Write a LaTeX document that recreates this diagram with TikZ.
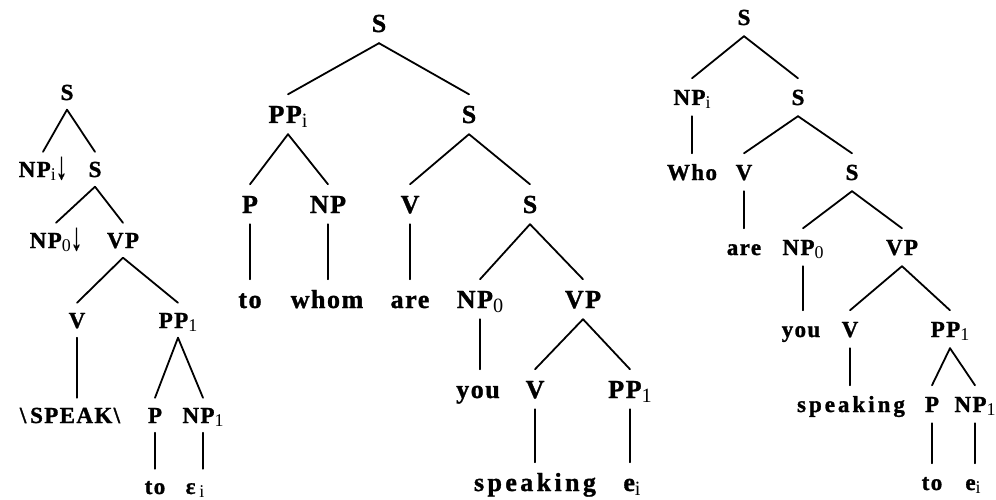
\documentclass[tikz,border=0pt]{standalone}
\usepackage{fontspec}
\usepackage{graphicx}
\setmainfont{Liberation Serif}[LetterSpace=6, BoldFeatures={FakeBold=1.2}]
\newcommand\lo[1]{\raisebox{-0.17em}{\scalebox{0.78}{\mdseries #1}}}
\newcommand\dnarrow{\raisebox{-0.08em}{\scalebox{1.0}[1.7]{↓}}}
\newcommand\wide[1]{{\addfontfeature{LetterSpace=13}#1}}
\begin{document}
\begin{tikzpicture}[x=1pt,y=-1pt,
  lab/.style={anchor=base, inner xsep=0pt, text depth=0pt},
  sml/.style={lab, font=\fontsize{23}{23}\selectfont\bfseries, text height=15.5pt, inner ysep=9.5pt},
  smr/.style={lab, font=\fontsize{23}{23}\selectfont\bfseries, text height=15.5pt, inner ysep=11pt},
  bg/.style={lab, font=\fontsize{26}{26}\selectfont\bfseries, text height=17.5pt, inner ysep=11pt},
  br/.style={line width=1.8pt, line cap=round}]
\useasboundingbox (0,0) rectangle (996,500);
% left tree
\node[sml] (l1) at (67,100) {S};
\node[sml] (l2a) at (43,177) {NP\lo{i}\dnarrow};
\node[sml] (l2b) at (95,177) {S};
\node[sml] (l3a) at (56,248) {NP\lo{0}\dnarrow};
\node[sml] (l3b) at (123,248) {VP};
\node[sml] (l4a) at (77,328) {V};
\node[sml] (l4b) at (178,328) {PP\lo{1}};
\node[sml] (l5a) at (70,423) {\textbackslash\,SPEAK\textbackslash};
\node[sml] (l5b) at (155,423) {P};
\node[sml] (l5c) at (203,423) {NP\lo{1}};
\node[sml] (l6a) at (155,494) {to};
\node[sml] (l6b) at (195,494) {ε\,\lo{i}};
% middle tree
\node[bg] (m1) at (379,32) {S};
\node[bg] (m2a) at (288,123) {PP\lo{i}};
\node[bg] (m2b) at (469,123) {S};
\node[bg] (m3a) at (250,213) {P};
\node[bg] (m3b) at (328,213) {NP};
\node[bg] (m3c) at (410,213) {V};
\node[bg] (m3d) at (530,213) {S};
\node[bg] (m4a) at (250,308) {to};
\node[bg] (m4b) at (327,308) {whom};
\node[bg] (m4c) at (410,308) {are};
\node[bg] (m4d) at (480,308) {NP\lo{0}};
\node[bg] (m4e) at (583,308) {VP};
\node[bg] (m5a) at (478,398) {you};
\node[bg] (m5b) at (535,398) {V};
\node[bg] (m5c) at (630,398) {PP\lo{1}};
\node[bg] (m6a) at (535,491) {\wide{speaking}};
\node[bg] (m6b) at (632,491) {e\lo{i}};
% right tree
\node[smr] (r1) at (744,25) {S};
\node[smr] (r2a) at (692,105) {NP\lo{i}};
\node[smr] (r2b) at (798,105) {S};
\node[smr] (r3a) at (692,180) {Who};
\node[smr] (r3b) at (744,180) {V};
\node[smr] (r3c) at (852,180) {S};
\node[smr] (r4a) at (744,255) {are};
\node[smr] (r4b) at (803,255) {NP\lo{0}};
\node[smr] (r4c) at (902,255) {VP};
\node[smr] (r5a) at (801,337) {you};
\node[smr] (r5b) at (850,337) {V};
\node[smr] (r5c) at (950,337) {PP\lo{1}};
\node[smr] (r6a) at (851,412) {\wide{speaking}};
\node[smr] (r6b) at (932,412) {P};
\node[smr] (r6c) at (975,412) {NP\lo{1}};
\node[smr] (r7a) at (932,490) {to};
\node[smr] (r7b) at (973,490) {e\lo{i}};
% branching edges
\foreach \a/\b in {l1/l2a,l1/l2b,l2b/l3a,l2b/l3b,l3b/l4a,l3b/l4b,l4b/l5b,l4b/l5c,
  m1/m2a,m1/m2b,m2a/m3a,m2a/m3b,m2b/m3c,m2b/m3d,m3d/m4d,m3d/m4e,m4e/m5b,m4e/m5c,
  r1/r2a,r1/r2b,r2b/r3b,r2b/r3c,r3c/r4b,r3c/r4c,r4c/r5b,r4c/r5c,r5c/r6b,r5c/r6c}
  \draw[br] (\a.south) -- (\b.north);
% unary edges
\foreach \a/\b in {l4a/l5a,l5b/l6a,l5c/l6b,
  m3a/m4a,m3b/m4b,m3c/m4c,m4d/m5a,m5b/m6a,m5c/m6b,
  r2a/r3a,r3b/r4a,r4b/r5a,r5b/r6a,r6b/r7a,r6c/r7b}
  \draw[br] (\a.south) -- (\a.south |- \b.north);
\end{tikzpicture}
\end{document}
